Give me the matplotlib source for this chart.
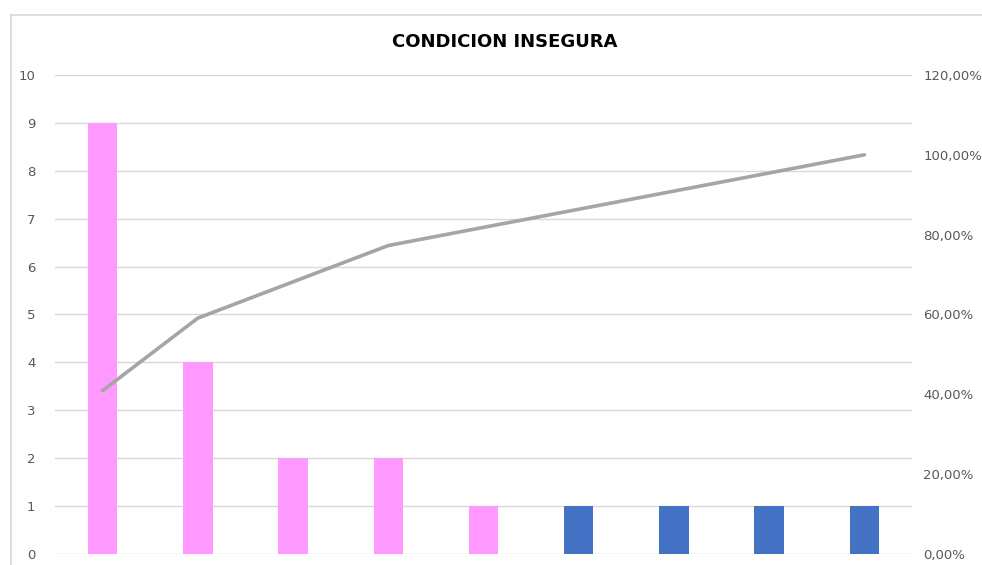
import matplotlib.pyplot as plt
from matplotlib.lines import Line2D
from matplotlib.ticker import FuncFormatter

# Pareto data
categories = ['C1', 'C2', 'C3', 'C4', 'C5', 'C6', 'C7', 'C8', 'C9']
counts = [9, 4, 2, 2, 1, 1, 1, 1, 1]
cum_pct = [0.4091, 0.5909, 0.6818, 0.7727, 0.8182, 0.8636, 0.9091, 0.9545, 1.0]
bar_colors = ['#FF99FF'] * 5 + ['#4472C4'] * 4

fig = plt.figure(figsize=(9.82, 5.65), dpi=100)
ax = fig.add_axes([0.056, 0.0195, 0.8727, 0.8478])

x = list(range(len(categories)))
ax.bar(x, counts, width=0.31, color=bar_colors, zorder=3)
ax.set_xlim(-0.5, len(categories) - 0.5)
ax.set_ylim(0, 10)
ax.set_yticks(range(0, 11))
ax.set_xticks([])
ax.grid(axis='y', color='#D9D9D9', linewidth=1, zorder=0)
for s in ax.spines.values():
    s.set_visible(False)
ax.tick_params(axis='y', length=0, pad=14, labelsize=9.5, labelcolor='#595959')

ax2 = ax.twinx()
ax2.plot(x, cum_pct, color='#A5A5A5', linewidth=2.6, solid_capstyle='round', zorder=4)
ax2.set_ylim(0, 1.2)
ax2.set_yticks([0, 0.2, 0.4, 0.6, 0.8, 1.0, 1.2])
ax2.yaxis.set_major_formatter(FuncFormatter(lambda v, p: f'{v*100:.2f}%'.replace('.', ',')))
for s in ax2.spines.values():
    s.set_visible(False)
ax2.tick_params(axis='y', length=0, pad=8, labelsize=9.5, labelcolor='#595959')

fig.text(0.514, 0.925, 'CONDICION INSEGURA', ha='center', va='center',
         fontsize=13, fontweight='bold', color='#000000')

# chart area border (clipped at right and bottom)
fig.add_artist(Line2D([0.0112, 0.0112], [0, 0.9735], color='#D9D9D9', linewidth=1.2, transform=fig.transFigure))
fig.add_artist(Line2D([0.0112, 1], [0.9735, 0.9735], color='#D9D9D9', linewidth=1.2, transform=fig.transFigure))

fig.savefig('out.png')
